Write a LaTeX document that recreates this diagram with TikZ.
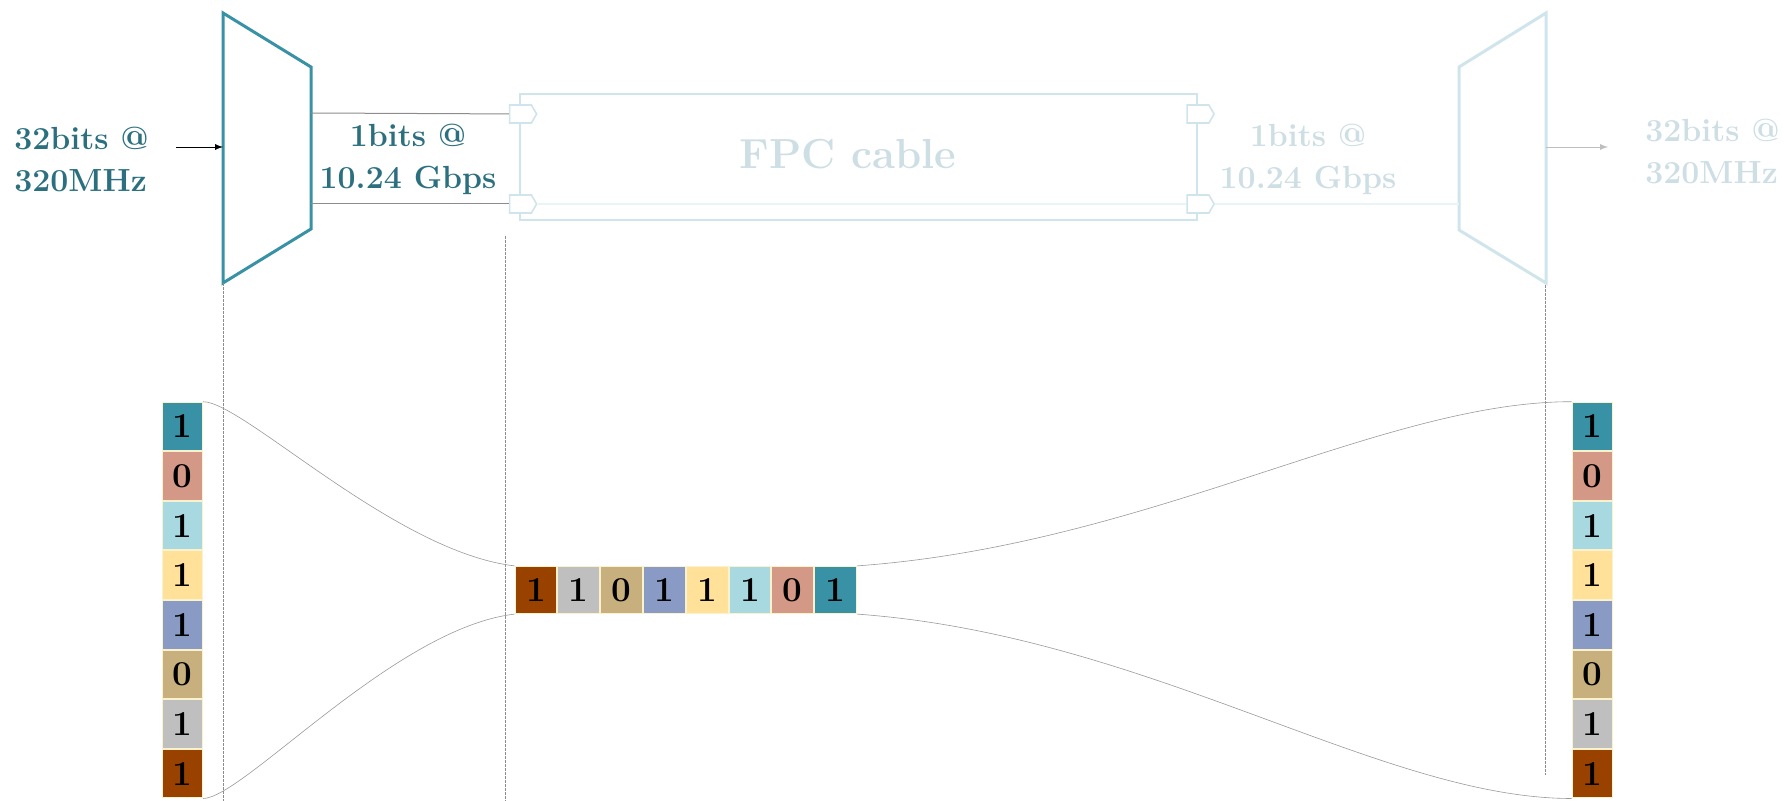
\documentclass[tikz,border=0pt]{standalone}
\usepackage{tikz}
\usetikzlibrary{shapes,arrows,positioning}

\definecolor{muxteal}{RGB}{57,145,166}
\definecolor{txtteal}{RGB}{44,112,128}
\definecolor{ghost}{RGB}{208,228,235}
\definecolor{ghosttxt}{RGB}{205,222,228}
\definecolor{bitedge}{RGB}{250,242,205}
\definecolor{bTeal}{RGB}{57,145,166}
\definecolor{bSalmon}{RGB}{212,152,134}
\definecolor{bSky}{RGB}{168,216,224}
\definecolor{bCream}{RGB}{255,225,153}
\definecolor{bLav}{RGB}{137,154,196}
\definecolor{bTan}{RGB}{199,176,125}
\definecolor{bGrey}{RGB}{191,191,191}
\definecolor{bRust}{RGB}{153,66,0}

\begin{document}
\begin{tikzpicture}[x=0.5pt,y=-0.5pt,
    lbl/.style={font=\fontsize{16}{21}\selectfont\bfseries,text=txtteal,align=center,inner sep=0pt},
    ghostlbl/.style={lbl,text=ghosttxt},
    fpctext/.style={font=\fontsize{21}{25}\selectfont\bfseries,text=ghosttxt,inner sep=0pt},
    mux/.style={draw=muxteal,line width=1.5pt},
    ghostmux/.style={draw=ghost,line width=1.5pt},
    cable/.style={rectangle,draw=ghost,line width=1.4pt,minimum width=338.5pt,minimum height=63pt},
    port/.style={signal,signal to=east,signal pointer angle=120,draw=ghost,fill=white,line width=0.8pt,minimum width=13.5pt,minimum height=9pt,inner sep=0pt},
    wire/.style={draw=black!45,line width=0.5pt},
    ghostwire/.style={draw=ghost!45,line width=0.7pt},
    guide/.style={draw=black!45,line width=0.4pt,dash pattern=on 1.5pt off 0.5pt},
    flow/.style={draw=black!40,line width=0.3pt},
    bit/.style={rectangle,draw=bitedge,line width=0.5pt,minimum width=20pt,minimum height=24.3pt,inner sep=0pt,font=\fontsize{17.5}{20}\selectfont\bfseries},
    hbit/.style={bit,minimum width=20.9pt,minimum height=23.6pt},
    arrow/.style={->,>=latex,line width=0.4pt}]
    \useasboundingbox (0,0) rectangle (1784,801);

    % serializer / deserializer
    \draw[mux] (223,13) -- (311,67) -- (311,229) -- (223,283) -- cycle;
    \draw[ghostmux] (1546,13) -- (1459,67) -- (1459,230) -- (1546,283) -- cycle;
    \coordinate (muxLin) at (223,147);
    \coordinate (muxLo1) at (311,113);
    \coordinate (muxLo2) at (311,204);
    \coordinate (muxRi) at (1459,204);
    \coordinate (muxRo) at (1546,147);
    \coordinate (inA) at (176,147);
    \coordinate (outA) at (1608,147);

    % cable
    \node[cable] (fpc) at (858.5,157) {};
    \node[fpctext] (fpclbl) at (848,154) {FPC cable};
    \node[port] (pL1) at (520.5,114) {};
    \node[port] (pL2) at (520.5,204) {};
    \node[port] (pR1) at (1198,114) {};
    \node[port] (pR2) at (1198,204) {};

    % labels
    \node[lbl,align=left,anchor=west] (inL) at (14,159) {32bits @\\320MHz};
    \node[lbl] (rateL) at (408,159) {1bits @\\10.24 Gbps};
    \node[ghostlbl] (rateR) at (1308,159) {1bits @\\10.24 Gbps};
    \node[ghostlbl,align=left,anchor=west] (outL) at (1645,151) {32bits @\\320MHz};

    \draw[arrow] (inA) -- (muxLin);
    \draw[wire] (muxLo1) -- (pL1);
    \draw[wire] (muxLo2) -- (pL2);
    \draw[ghostwire] (pL2) -- (pR2);
    \draw[ghostwire] (pR2) -- (muxRi);
    \draw[arrow,draw=black!25] (muxRo) -- (outA);

    % guides
    \coordinate (gL) at (223,283);
    \coordinate (gLb) at (223,801);
    \coordinate (gM) at (505,236);
    \coordinate (gMb) at (505,801);
    \coordinate (gR) at (1545,285);
    \coordinate (gRb) at (1545,775);
    \draw[guide] (gL) -- (gLb);
    \draw[guide] (gM) -- (gMb);
    \draw[guide] (gR) -- (gRb);

    % parallel word in
    \node[bit,fill=bTeal] (l1) at (182.5,426.5) {1};
    \node[bit,fill=bSalmon,below=0pt of l1] (l2) {0};
    \node[bit,fill=bSky,below=0pt of l2] (l3) {1};
    \node[bit,fill=bCream,below=0pt of l3] (l4) {1};
    \node[bit,fill=bLav,below=0pt of l4] (l5) {1};
    \node[bit,fill=bTan,below=0pt of l5] (l6) {0};
    \node[bit,fill=bGrey,below=0pt of l6] (l7) {1};
    \node[bit,fill=bRust,below=0pt of l7] (l8) {1};

    % serial stream
    \node[hbit,fill=bRust] (m1) at (536,590) {1};
    \node[hbit,fill=bGrey,right=0pt of m1] (m2) {1};
    \node[hbit,fill=bTan,right=0pt of m2] (m3) {0};
    \node[hbit,fill=bLav,right=0pt of m3] (m4) {1};
    \node[hbit,fill=bCream,right=0pt of m4] (m5) {1};
    \node[hbit,fill=bSky,right=0pt of m5] (m6) {1};
    \node[hbit,fill=bSalmon,right=0pt of m6] (m7) {0};
    \node[hbit,fill=bTeal,right=0pt of m7] (m8) {1};

    % parallel word out
    \node[bit,fill=bTeal] (r1) at (1592,426.5) {1};
    \node[bit,fill=bSalmon,below=0pt of r1] (r2) {0};
    \node[bit,fill=bSky,below=0pt of r2] (r3) {1};
    \node[bit,fill=bCream,below=0pt of r3] (r4) {1};
    \node[bit,fill=bLav,below=0pt of r4] (r5) {1};
    \node[bit,fill=bTan,below=0pt of r5] (r6) {0};
    \node[bit,fill=bGrey,below=0pt of r6] (r7) {1};
    \node[bit,fill=bRust,below=0pt of r7] (r8) {1};

    \draw[flow] (l1.north east) .. controls +(40,0) and +(-120,-14) .. (m1.north west);
    \draw[flow] (l8.south east) .. controls +(40,0) and +(-120,14) .. (m1.south west);
    \draw[flow] (m8.north east) .. controls +(292,-21) and +(-191,0) .. (r1.north west);
    \draw[flow] (m8.south east) .. controls +(292,21) and +(-191,0) .. (r8.south west);
\end{tikzpicture}
\end{document}
